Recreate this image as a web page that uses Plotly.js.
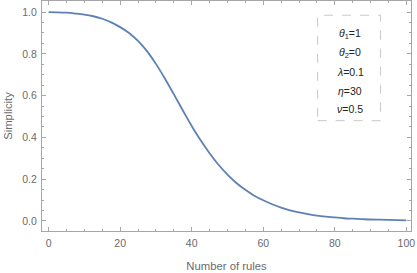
<!DOCTYPE html>
<html><head><meta charset="utf-8">
<script src="https://cdn.plot.ly/plotly-3.0.1.min.js"></script>
<style>html,body{margin:0;padding:0;background:#fff}#plot{width:417px;height:273px}</style>
</head><body><div id="plot"></div>
<script>
const rules = [0,2.5,5,7.5,10,12.5,15,17.5,20,22.5,25,27.5,30,32.5,35,37.5,40,42.5,45,47.5,50,52.5,55,57.5,60,62.5,65,67.5,70,72.5,75,77.5,80,82.5,85,87.5,90,92.5,95,97.5,100];
const simplicity = [1.0,0.999,0.997,0.993,0.988,0.980,0.968,0.951,0.928,0.900,0.862,0.813,0.752,0.682,0.607,0.530,0.455,0.386,0.324,0.269,0.222,0.182,0.149,0.121,0.099,0.080,0.064,0.051,0.041,0.033,0.026,0.021,0.017,0.013,0.011,0.009,0.007,0.006,0.005,0.004,0.003];
const paramLabels = ["<i>θ</i><sub>1</sub>=1","<i>θ</i><sub>2</sub>=0","<i>λ</i>=0.1","<i>η</i>=30","<i>ν</i>=0.5"];
const paramY = [0.897,0.806,0.712,0.624,0.537];

const FONT = 'Liberation Sans, Arial, sans-serif';
const axisCommon = {
  showline:true, linecolor:'#a6a6a6', linewidth:1, mirror:'allticks',
  ticks:'inside', ticklen:4, tickcolor:'#a6a6a6', tickwidth:1,
  showgrid:false, zeroline:false, ticklabelstandoff:2,
  tickfont:{family:FONT, size:10.5, color:'#6b6b6b'}
};
const layout = {
  width:417, height:273, margin:{l:42,r:6,t:1,b:42},
  paper_bgcolor:'#fff', plot_bgcolor:'#fff', showlegend:false,
  xaxis:Object.assign({}, axisCommon, {
    range:[-1.84,101.3], tickvals:[0,20,40,60,80,100],
    minor:{dtick:5, tick0:0, ticks:'inside', ticklen:2, tickcolor:'#a6a6a6'},
    title:{text:'Number of rules', standoff:14, font:{family:FONT, size:11.3, color:'#6b6b6b'}}
  }),
  yaxis:Object.assign({}, axisCommon, {
    range:[-0.048,1.053], tickvals:[0,0.2,0.4,0.6,0.8,1.0], tickformat:'.1f',
    minor:{dtick:0.05, tick0:0, ticks:'inside', ticklen:2, tickcolor:'#a6a6a6'},
    title:{text:'Simplicity', standoff:7, font:{family:FONT, size:11.3, color:'#6b6b6b'}}
  }),
  shapes:[{type:'rect', xref:'x', yref:'y', x0:75.2, x1:92.8, y0:0.48, y1:0.985,
    line:{color:'#c8c8c8', width:1, dash:'dash'}, fillcolor:'rgba(0,0,0,0)'}],
  annotations: paramLabels.map((t,i)=>({x:84.3, y:paramY[i], xref:'x', yref:'y', text:t, showarrow:false,
    xanchor:'center', yanchor:'middle', font:{family:FONT, size:10.5, color:'#222'}}))
};
Plotly.newPlot('plot',[{x:rules, y:simplicity, type:'scatter', mode:'lines',
  line:{color:'#5e81b5', width:1.8, shape:'spline'}}], layout, {displayModeBar:false, staticPlot:true});
</script></body></html>
